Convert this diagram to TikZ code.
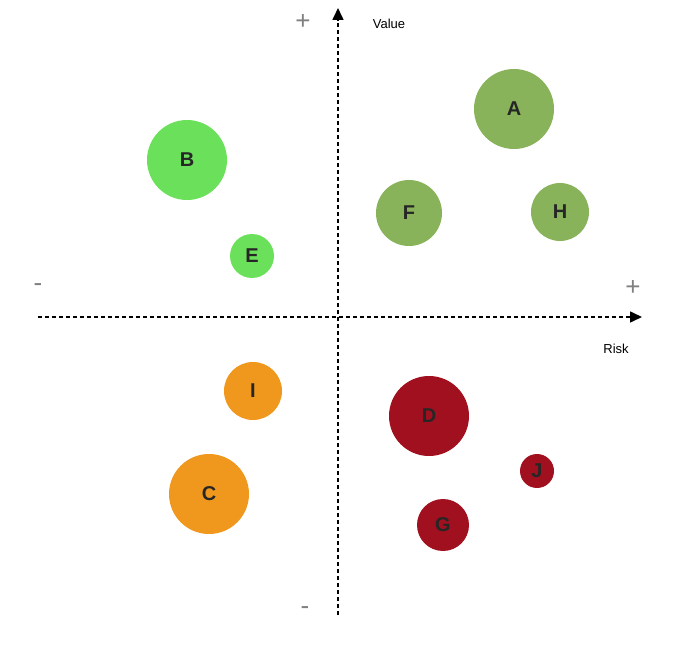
\documentclass[tikz,border=0pt]{standalone}
\usepackage{fontspec}
\setmainfont{Liberation Sans}
\usetikzlibrary{arrows.meta}
\definecolor{cg}{HTML}{88B35A}
\definecolor{cl}{HTML}{6BE05A}
\definecolor{co}{HTML}{F0981E}
\definecolor{cr}{HTML}{A0101E}
\definecolor{gy}{HTML}{808080}
\begin{document}
\begin{tikzpicture}[x=1pt,y=-1pt,
  axis/.style={dashed,line width=1.6pt,dash pattern=on 4pt off 3pt,-{Triangle[length=12pt,width=11pt]}},
  bub/.style={circle,inner sep=0pt,font=\bfseries\fontsize{20}{22}\selectfont,text=black!85},
  sgn/.style={text=gy,font=\fontsize{26}{26}\selectfont},
  lab/.style={font=\fontsize{13}{15}\selectfont}]
\useasboundingbox (0,0) rectangle (694,647);
\coordinate (vb) at (338,615); \coordinate (vt) at (338,8);
\coordinate (hl) at (38,317); \coordinate (hr) at (642,317);
\draw[axis] (vb) -- (vt);
\draw[axis] (hl) -- (hr);
\node[bub,fill=cg,minimum size=80pt] (A) at (514,109) {A};
\node[bub,fill=cl,minimum size=80pt] (B) at (187,160) {B};
\node[bub,fill=cg,minimum size=66pt] (F) at (409,213) {F};
\node[bub,fill=cg,minimum size=58pt] (H) at (560,212) {H};
\node[bub,fill=cl,minimum size=44pt] (E) at (252,256) {E};
\node[bub,fill=co,minimum size=58pt] (I) at (253,391) {I};
\node[bub,fill=cr,minimum size=80pt] (D) at (429,416) {D};
\node[bub,fill=co,minimum size=80pt] (C) at (209,494) {C};
\node[bub,fill=cr,minimum size=34pt] (J) at (537,471) {J};
\node[bub,fill=cr,minimum size=52pt] (G) at (443,525) {G};
\node[sgn] (p1) at (303,22) {+};
\node[sgn] (p2) at (633,288) {+};
\node[sgn] (m1) at (38,288) {-};
\node[sgn] (m2) at (305,611) {-};
\node[lab] (val) at (389,24) {Value};
\node[lab] (risk) at (616,349) {Risk};
\end{tikzpicture}
\end{document}
